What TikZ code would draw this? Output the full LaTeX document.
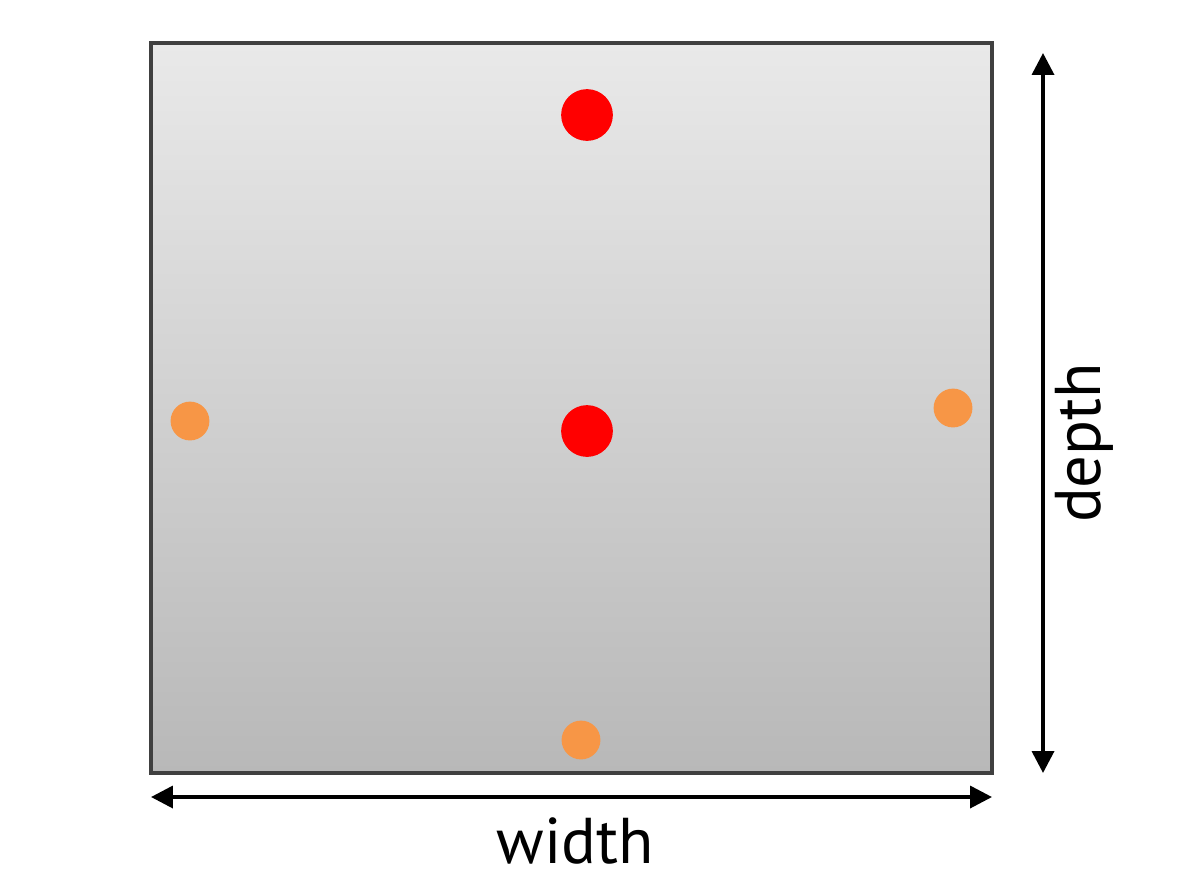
\documentclass[tikz,border=0pt]{standalone}
\usepackage{fontspec}
\setmainfont{PT Sans}
\usetikzlibrary{arrows.meta}
\definecolor{plateborder}{HTML}{404040}
\definecolor{platetop}{HTML}{E9E9E9}
\definecolor{platebottom}{HTML}{B8B8B8}
\definecolor{dotred}{HTML}{FF0000}
\definecolor{dotorange}{HTML}{F79646}
\tikzset{
  bigdot/.style={circle, fill=dotred, inner sep=0pt, minimum size=52*0.708pt},
  smalldot/.style={circle, fill=dotorange, inner sep=0pt, minimum size=39*0.708pt},
  dimarrow/.style={line width=2.6pt, {Triangle[length=15.6pt,width=15.6pt]}-{Triangle[length=15.6pt,width=15.6pt]}},
  dimlabel/.style={font=\fontsize{46}{50}\selectfont, inner sep=0pt, anchor=base},
}
\begin{document}
\begin{tikzpicture}[x=0.025cm, y=-0.025cm]
\useasboundingbox (0,0) rectangle (1200,871);
\shade[top color=platetop, bottom color=platebottom] (151,43) rectangle (992,773);
\draw[plateborder, line width=2.5pt] (151,43) rectangle (992,773);
\node[bigdot] (r1) at (587,115) {};
\node[bigdot] (r2) at (587,431) {};
\node[smalldot] (o1) at (190,421) {};
\node[smalldot] (o2) at (953,408) {};
\node[smalldot] (o3) at (581,740) {};
\coordinate (wl) at (151,797);
\coordinate (wr) at (992,797);
\coordinate (dt) at (1043,53);
\coordinate (db) at (1043,773);
\draw[dimarrow] (wl) -- (wr);
\draw[dimarrow] (dt) -- (db);
\node[dimlabel] (wlab) at (575,863) {width};
\node[dimlabel, rotate=90] (dlab) at (1100,443) {depth};
\end{tikzpicture}
\end{document}
